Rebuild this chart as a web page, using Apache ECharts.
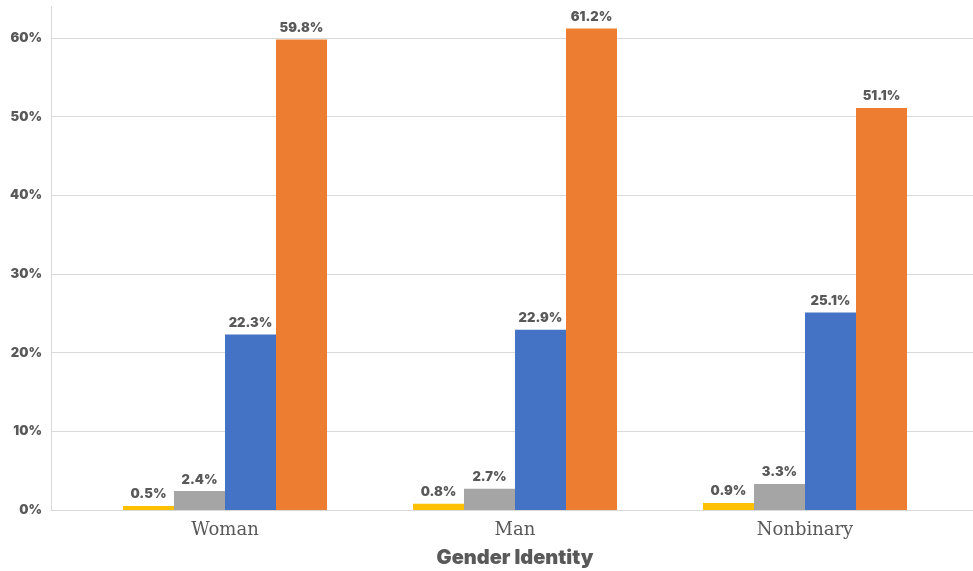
<!DOCTYPE html>
<html>
<head>
<meta charset="utf-8">
<script src="https://cdn.jsdelivr.net/npm/echarts@6/dist/echarts.min.js"></script>
<style>
  html, body { margin: 0; padding: 0; background: #ffffff; }
  #chart { width: 973px; height: 571px; }
</style>
</head>
<body>
<div id="chart"></div>
<script>
// Share of respondents by gender identity, four response groups
const categories = ['Woman', 'Man', 'Nonbinary'];
const seriesNames = ['Group 1', 'Group 2', 'Group 3', 'Group 4'];
const group1 = [0.5, 0.8, 0.9];
const group2 = [2.4, 2.7, 3.3];
const group3 = [22.3, 22.9, 25.1];
const group4 = [59.8, 61.2, 51.1];
const yTicks = [0, 10, 20, 30, 40, 50, 60];

const colors = ['#FFC000', '#A5A5A5', '#4472C4', '#ED7D31'];
const seriesData = [group1, group2, group3, group4];
const textColor = '#595959';
const lineColor = '#D9D9D9';
const yMax = 64;
const heavyFont = 'Inter, "DejaVu Sans", sans-serif';

const chart = echarts.init(document.getElementById('chart'), null, { renderer: 'canvas' });

chart.setOption({
  animation: false,
  backgroundColor: '#ffffff',
  grid: [
    // bars
    { left: 80, right: 23, top: 6.5, bottom: 61, containLabel: false, outerBoundsMode: 'none' },
    // frame: gridlines and axis lines across the full width
    { left: 51, right: 0, top: 6.5, bottom: 61, containLabel: false, outerBoundsMode: 'none' }
  ],
  xAxis: [
    {
      type: 'category',
      gridIndex: 0,
      data: categories,
      axisLine: { show: false },
      axisTick: { show: false },
      axisLabel: {
        color: textColor,
        fontFamily: '"DejaVu Serif", serif',
        fontSize: 18,
        margin: 11
      },
      name: 'Gender Identity',
      nameLocation: 'middle',
      nameGap: 38,
      nameTextStyle: {
        color: textColor,
        fontFamily: heavyFont,
        fontWeight: 900,
        fontSize: 20
      }
    },
    {
      type: 'value',
      gridIndex: 1,
      min: 0,
      max: 1,
      axisLine: { show: true, lineStyle: { color: lineColor, width: 1 } },
      axisTick: { show: false },
      axisLabel: { show: false },
      splitLine: { show: false }
    }
  ],
  yAxis: [
    {
      type: 'value',
      gridIndex: 0,
      min: 0,
      max: yMax,
      show: false
    },
    {
      type: 'value',
      gridIndex: 1,
      min: 0,
      max: yMax,
      interval: 10,
      axisLine: { show: true, lineStyle: { color: lineColor, width: 1 } },
      axisTick: { show: false },
      axisLabel: {
        color: textColor,
        fontFamily: heavyFont,
        fontWeight: 900,
        fontSize: 13,
        margin: 9,
        showMaxLabel: false,
        formatter: v => (yTicks.indexOf(v) >= 0 ? v + '%' : '')
      },
      splitLine: {
        show: true,
        showMaxLine: false,
        lineStyle: { color: lineColor, width: 1 }
      }
    }
  ],
  series: seriesData.map((d, i) => ({
    name: seriesNames[i],
    type: 'bar',
    xAxisIndex: 0,
    yAxisIndex: 0,
    data: d,
    barWidth: 51,
    barGap: '0%',
    itemStyle: { color: colors[i] },
    label: {
      show: true,
      position: 'top',
      distance: 5,
      color: textColor,
      fontFamily: heavyFont,
      fontWeight: 900,
      fontSize: 13,
      formatter: p => p.value.toFixed(1) + '%'
    }
  }))
});
</script>
</body>
</html>
